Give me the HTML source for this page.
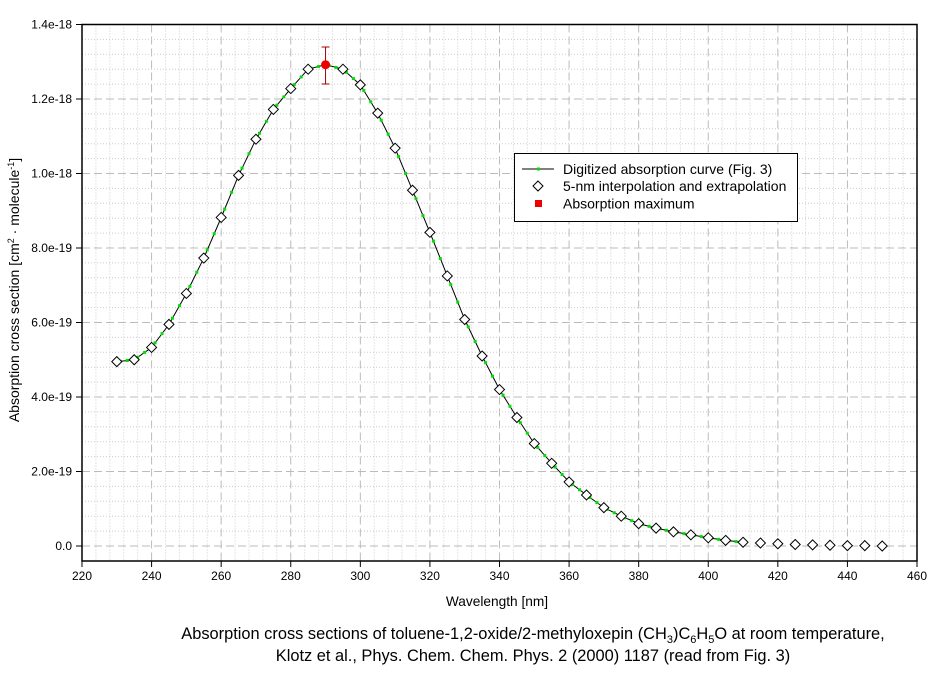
<!DOCTYPE html>
<html><head><meta charset="utf-8"><style>
body{margin:0;background:#fff;}
svg text{font-family:"Liberation Sans",sans-serif;font-size:12px;fill:#000;}
</style></head><body>
<svg id="s" width="942" height="668" xmlns="http://www.w3.org/2000/svg">
<rect width="942" height="668" fill="#fff"/>
<g id="grid"></g>
<g id="data"></g>
<rect x="82" y="24.5" width="835" height="536.5" fill="none" stroke="#000" stroke-width="1.5"/>
<g id="ticks"></g>
<text x="497" y="606" text-anchor="middle" style="font-size:13.7px">Wavelength [nm]</text>
<text transform="translate(19,290) rotate(-90)" text-anchor="middle" style="font-size:14px">Absorption cross section [cm<tspan font-size="9" dy="-5">2</tspan><tspan dy="5"> · molecule</tspan><tspan font-size="9" dy="-5">-1</tspan><tspan dy="5">]</tspan></text>
<text x="533" y="639" text-anchor="middle" style="font-size:16.4px">Absorption cross sections of toluene-1,2-oxide/2-methyloxepin (CH<tspan font-size="11" dy="4">3</tspan><tspan dy="-4">)C</tspan><tspan font-size="11" dy="4">6</tspan><tspan dy="-4">H</tspan><tspan font-size="11" dy="4">5</tspan><tspan dy="-4">O at room temperature,</tspan></text>
<text x="533" y="661" text-anchor="middle" style="font-size:16.4px">Klotz et al., Phys. Chem. Chem. Phys. 2 (2000) 1187 (read from Fig. 3)</text>
<rect x="514.5" y="153.5" width="283" height="68" fill="#fff" stroke="#000"/>
<line x1="522" y1="169" x2="554" y2="169" stroke="#000"/><rect x="537" y="167.5" width="3" height="3" fill="#0d0"/>
<g style="font-size:14px">
<text x="563" y="174" style="font-size:14px">Digitized absorption curve (Fig. 3)</text>
<text x="563" y="191" style="font-size:14px">5-nm interpolation and extrapolation</text>
<text x="563" y="208.5" style="font-size:14px">Absorption maximum</text>
</g>
<path d="M538 181 L543 186 L538 191 L533 186 Z" fill="#fff" stroke="#000"/>
<rect x="535" y="200" width="7" height="7" fill="#e00"/>
</svg>
<script>
var X=function(v){return 82+(v-220)*835/240;};
var Y=function(v){return 546-v*521.5/14;}; // v in 1e-19
var ns="http://www.w3.org/2000/svg";
function el(p,t,a){var e=document.createElementNS(ns,t);for(var k in a)e.setAttribute(k,a[k]);document.getElementById(p).appendChild(e);return e;}
for(var v=220;v<=460;v+=4){var x=X(v);if(v==220||v==460)continue;var maj=(v%20==0);
el('grid','line',{x1:x,y1:24.5,x2:x,y2:561,stroke:maj?'#bbb':'#ccc','stroke-dasharray':maj?'8,4':'1,2'});}
for(var i=-1;i<36;i++){var val=i*0.4;var y=Y(val);if(y<25||y>560)continue;var maj=(i%5==0);
el('grid','line',{x1:82,y1:y,x2:917,y2:y,stroke:maj?'#bbb':'#ccc','stroke-dasharray':maj?'8,4':'1,2'});}
for(var v=220;v<=460;v+=20){var x=X(v);el('ticks','line',{x1:x,y1:561,x2:x,y2:567,stroke:'#000'});var t=el('ticks','text',{x:x,y:580,'text-anchor':'middle'});t.textContent=v;}
var labs=['0.0','2.0e-19','4.0e-19','6.0e-19','8.0e-19','1.0e-18','1.2e-18','1.4e-18'];
for(var i=0;i<8;i++){var y=Y(i*2);el('ticks','line',{x1:76,y1:y,x2:82,y2:y,stroke:'#000'});var t=el('ticks','text',{x:72,y:y+4,'text-anchor':'end'});t.textContent=labs[i];}
var d=[4.95,5.0,5.33,5.95,6.78,7.73,8.82,9.95,10.92,11.72,12.28,12.8,12.92,12.8,12.38,11.62,10.68,9.55,8.42,7.25,6.08,5.1,4.2,3.45,2.75,2.22,1.72,1.37,1.03,0.8,0.6,0.48,0.38,0.3,0.22,0.15,0.1,0.08,0.06,0.04,0.03,0.02,0.01,0.01,0.0];
var pts=[];for(var i=0;i<=36;i++)pts.push(X(230+5*i).toFixed(1)+','+Y(d[i]).toFixed(1));
el('data','polyline',{points:pts.join(' '),fill:'none',stroke:'#000','stroke-width':1});
for(var i=0;i<36;i++){for(var f=0.2;f<1;f+=0.4){var v=230+5*(i+f);var yv=d[i]+(d[i+1]-d[i])*f;el('data','rect',{x:X(v)-1.5,y:Y(yv)-1.5,width:3,height:3,fill:'#0d0'});}}
for(var i=0;i<d.length;i++){if(i==12)continue;var x=X(230+5*i),y=Y(d[i]);
el('data','path',{d:'M'+x+' '+(y-5)+' L'+(x+5)+' '+y+' L'+x+' '+(y+5)+' L'+(x-5)+' '+y+' Z',fill:'#fff',stroke:'#000'});}
var x=X(290),y=Y(12.92);
el('data','line',{x1:x,y1:47,x2:x,y2:84,stroke:'#a00'});el('data','line',{x1:x-4,y1:47,x2:x+4,y2:47,stroke:'#a00'});el('data','line',{x1:x-4,y1:84,x2:x+4,y2:84,stroke:'#a00'});
el('data','circle',{cx:x,cy:y,r:4.5,fill:'#e00'});
</script>
</body></html>
